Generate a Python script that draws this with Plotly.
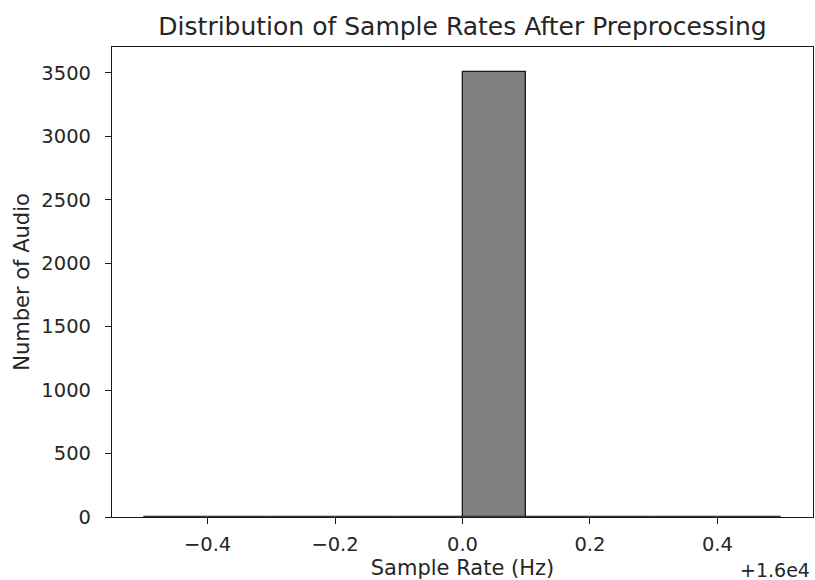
import plotly.graph_objects as go

# Histogram of sample rates (Hz): 10 bins spanning 15999.5 .. 16000.5
bin_edges = [15999.5, 15999.6, 15999.7, 15999.8, 15999.9, 16000.0,
             16000.1, 16000.2, 16000.3, 16000.4, 16000.5]
counts = [0, 0, 0, 0, 0, 3510, 0, 0, 0, 0]

x_offset = 16000.0
x_tick_vals = [-0.4, -0.2, 0.0, 0.2, 0.4]
y_tick_vals = [0, 500, 1000, 1500, 2000, 2500, 3000, 3500]

title_text = "Distribution of Sample Rates After Preprocessing"
x_title = "Sample Rate (Hz)"
y_title = "Number of Audio"
offset_text = "+1.6e4"

# bins shown relative to the offset, as matplotlib does
left = [e - x_offset for e in bin_edges[:-1]]
widths = [b - a for a, b in zip(bin_edges[:-1], bin_edges[1:])]

def fmt(v):
    s = f"{v:.1f}"
    return s.replace("-", "\u2212")

FONT = "DejaVu Sans"
TXT = "#262626"
W, H = 815, 580
L, R, T, B = 112, 2, 47, 63

fig = go.Figure()
fig.add_trace(go.Bar(
    x=left, y=counts, width=widths, offset=0,
    marker=dict(color="#808080", line=dict(color="#1a1a1a", width=1.3)),
    showlegend=False,
))
# zero-count bins still show their edges along the baseline
fig.add_trace(go.Scatter(
    x=[left[0], left[-1] + widths[-1]], y=[0, 0], mode="lines",
    line=dict(color="#555555", width=1.0), showlegend=False, hoverinfo="skip",
))

xmin, xmax = left[0], left[-1] + widths[-1]
pad = 0.05 * (xmax - xmin)
ymax = max(counts) * 1.055

axis_common = dict(
    showline=True, mirror=True, linecolor="#1a1a1a", linewidth=1.2,
    showgrid=False, zeroline=False,
    ticks="outside", ticklen=6, tickwidth=1.2, tickcolor="#1a1a1a",
    tickfont=dict(family=FONT, size=19.5, color=TXT),
)

fig.update_xaxes(
    range=[xmin - pad, xmax + pad],
    tickvals=x_tick_vals, ticktext=[fmt(v) for v in x_tick_vals],
    ticklabelstandoff=3,
    title=dict(text=x_title, font=dict(family=FONT, size=21, color=TXT), standoff=7),
    **axis_common,
)
fig.update_yaxes(
    range=[0, ymax],
    tickvals=y_tick_vals, ticktext=[str(v) for v in y_tick_vals],
    ticklabelstandoff=10,
    title=dict(text=y_title, font=dict(family=FONT, size=21, color=TXT), standoff=6),
    **axis_common,
)

fig.add_annotation(
    text=offset_text, xref="paper", yref="paper", x=1.0, y=0,
    xanchor="right", yanchor="top", xshift=-1, yshift=-40, showarrow=False,
    font=dict(family=FONT, size=19, color=TXT),
)

fig.update_layout(
    width=W, height=H,
    margin=dict(l=L, r=R, t=T, b=B, autoexpand=False),
    paper_bgcolor="white", plot_bgcolor="white",
    title=dict(text=title_text, x=(L + (W - R - L) / 2) / W, xanchor="center",
               y=1 - 26 / H, yanchor="middle",
               font=dict(family=FONT, size=25, color=TXT)),
    bargap=0,
)

fig.write_html("out.html")
